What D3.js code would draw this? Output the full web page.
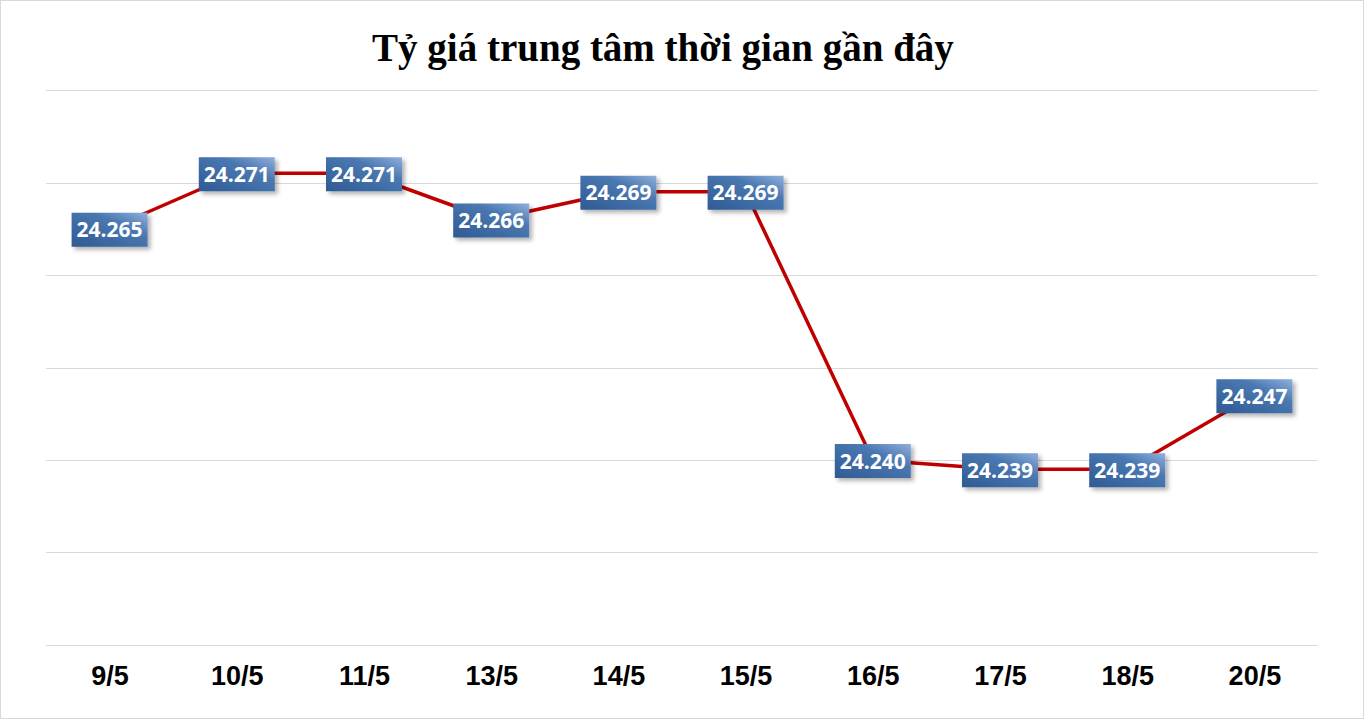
<!DOCTYPE html>
<html>
<head>
<meta charset="utf-8">
<script src="https://cdn.jsdelivr.net/npm/d3@7"></script>
<style>
  html, body { margin: 0; padding: 0; background: #fff; }
  svg { display: block; }
</style>
</head>
<body>
<div id="chart"></div>
<script>
const categories = ['9/5', '10/5', '11/5', '13/5', '14/5', '15/5', '16/5', '17/5', '18/5', '20/5'];
const rates = [24.265, 24.271, 24.271, 24.266, 24.269, 24.269, 24.240, 24.239, 24.239, 24.247];
const gridTicks = [24.22, 24.23, 24.24, 24.25, 24.26, 24.27, 24.28];
const title = 'Tỷ giá trung tâm thời gian gần đây';

const width = 1365;
const height = 720;
const margin = { top: 90, right: 47, bottom: 75, left: 46 };

const svg = d3.select('#chart')
  .append('svg')
  .attr('width', width)
  .attr('height', height);

const defs = svg.append('defs');
const grad = defs.append('linearGradient')
  .attr('id', 'boxGrad')
  .attr('x1', '0%').attr('y1', '100%')
  .attr('x2', '100%').attr('y2', '0%');
grad.append('stop').attr('offset', '0%').attr('stop-color', '#2f5a92');
grad.append('stop').attr('offset', '65%').attr('stop-color', '#4a78b2');
grad.append('stop').attr('offset', '100%').attr('stop-color', '#8fb0db');

const shadow = defs.append('filter')
  .attr('id', 'shadow')
  .attr('x', '-20%').attr('y', '-20%')
  .attr('width', '150%').attr('height', '160%');
shadow.append('feDropShadow')
  .attr('dx', 3).attr('dy', 3)
  .attr('stdDeviation', 2)
  .attr('flood-color', '#000')
  .attr('flood-opacity', 0.3);

// outer frame
svg.append('rect')
  .attr('x', 0.5).attr('y', 0.5)
  .attr('width', width - 2).attr('height', height - 2)
  .attr('fill', '#fff')
  .attr('stroke', '#d9d9d9');

svg.append('text')
  .attr('x', 663)
  .attr('y', 61)
  .attr('text-anchor', 'middle')
  .attr('font-family', 'Liberation Serif, DejaVu Serif, serif')
  .attr('font-weight', 'bold')
  .attr('font-size', 39)
  .attr('fill', '#000')
  .text(title);

const x = d3.scalePoint()
  .domain(categories)
  .range([margin.left, width - margin.right])
  .padding(0.5);

const y = d3.scaleLinear()
  .domain([24.22, 24.28])
  .range([height - margin.bottom, margin.top]);

const g = svg.append('g');

g.selectAll('line.grid')
  .data(gridTicks)
  .enter()
  .append('line')
  .attr('class', 'grid')
  .attr('x1', margin.left)
  .attr('x2', width - margin.right)
  .attr('y1', (d) => Math.round(y(d)) + 0.5)
  .attr('y2', (d) => Math.round(y(d)) + 0.5)
  .attr('stroke', '#d9d9d9')
  .attr('stroke-width', 1);

const xAxis = d3.axisBottom(x).tickSize(0).tickPadding(21);
const axisG = svg.append('g')
  .attr('transform', `translate(0, ${height - margin.bottom})`)
  .call(xAxis);
axisG.select('.domain').remove();
axisG.selectAll('text')
  .attr('font-family', 'Liberation Sans, Arial, sans-serif')
  .attr('font-weight', 'bold')
  .attr('font-size', 27)
  .attr('fill', '#000');

const line = d3.line()
  .x((d, i) => x(categories[i]))
  .y((d) => y(d));

g.append('path')
  .datum(rates)
  .attr('d', line)
  .attr('fill', 'none')
  .attr('stroke', '#c00000')
  .attr('stroke-width', 3.5)
  .attr('stroke-linejoin', 'round');

const fmt = (v) => v.toFixed(3);
const boxW = 76;
const boxH = 34;

const labels = g.selectAll('g.lbl')
  .data(rates)
  .enter()
  .append('g')
  .attr('class', 'lbl')
  .attr('transform', (d, i) => `translate(${x(categories[i])}, ${y(d) + 1})`);

labels.append('rect')
  .attr('x', -boxW / 2)
  .attr('y', -boxH / 2)
  .attr('width', boxW)
  .attr('height', boxH)
  .attr('fill', 'url(#boxGrad)')
  .attr('filter', 'url(#shadow)');

labels.append('text')
  .attr('text-anchor', 'middle')
  .attr('dy', '0.36em')
  .attr('font-family', 'Open Sans, Lato, sans-serif')
  .attr('font-weight', 'bold')
  .attr('font-size', 21)
  .attr('fill', '#fff')
  .text(fmt);
</script>
</body>
</html>
